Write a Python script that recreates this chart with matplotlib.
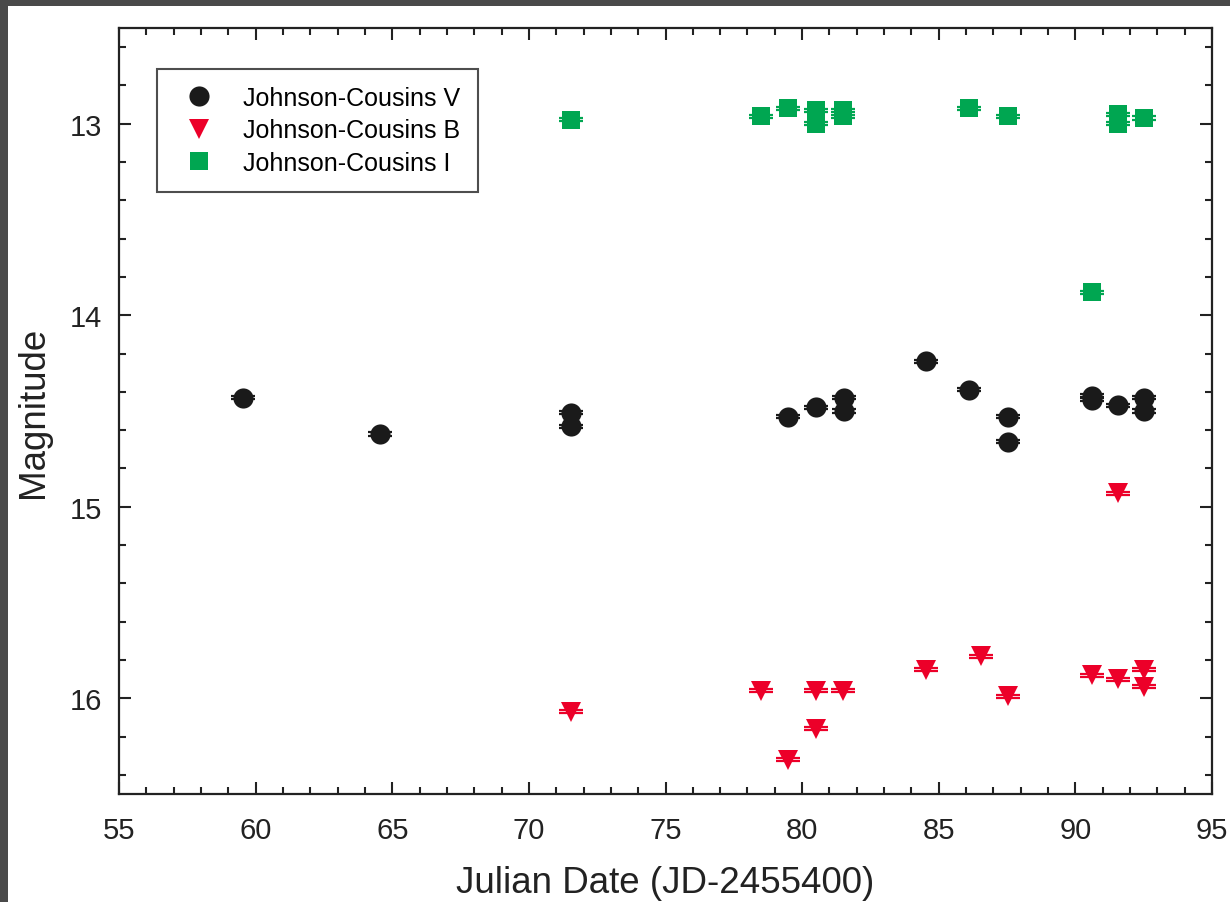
import matplotlib
matplotlib.use("Agg")
import matplotlib.pyplot as plt
from matplotlib.lines import Line2D
from matplotlib.patches import Rectangle
from matplotlib.ticker import MultipleLocator

plt.rcParams['font.family'] = ['Liberation Sans', 'DejaVu Sans']

# Johnson-Cousins V
v_jd = [59.55, 64.55, 71.55, 71.55, 79.5, 80.5, 81.55, 81.55, 84.55, 86.1, 87.55, 87.55, 90.6, 90.6, 91.55, 92.5, 92.5]
v_mag = [14.43, 14.62, 14.51, 14.58, 14.53, 14.48, 14.43, 14.50, 14.24, 14.39, 14.53, 14.66, 14.42, 14.44, 14.47, 14.43, 14.50]
# Johnson-Cousins B
b_jd = [71.55, 78.5, 79.5, 80.5, 80.5, 81.5, 84.55, 86.55, 87.55, 90.6, 91.55, 91.55, 92.5, 92.5]
b_mag = [16.07, 15.96, 16.32, 15.96, 16.16, 15.96, 15.85, 15.78, 15.99, 15.88, 15.90, 14.93, 15.85, 15.94]
# Johnson-Cousins I
i_jd = [71.55, 78.5, 79.5, 80.5, 80.5, 81.5, 81.5, 86.1, 87.55, 90.6, 91.55, 91.55, 92.5]
i_mag = [12.98, 12.96, 12.92, 12.93, 13.00, 12.93, 12.96, 12.92, 12.96, 13.88, 12.95, 13.00, 12.97]

series_labels = ["Johnson-Cousins V", "Johnson-Cousins B", "Johnson-Cousins I"]

c_v = "#1a1a1a"
c_b = "#ec0029"
c_i = "#00a651"
c_ax = "#222222"

fig = plt.figure(figsize=(12.3, 9.03), dpi=100)
fig.patch.set_facecolor("#4a4a4a")
fig.patches.append(Rectangle((8 / 1230, 0), 1, 1 - 7 / 903, transform=fig.transFigure,
                             facecolor="white", edgecolor="none", zorder=-10))

ax = fig.add_axes([119 / 1230, 1 - 795 / 903, (1212 - 119) / 1230, (795 - 29) / 903])

def draw(x, y, color, marker, ms):
    ax.errorbar(x, y, yerr=[0.008] * len(x), fmt="none", ecolor=color, elinewidth=1.2,
                capsize=8.5, capthick=1.6, zorder=2)
    ax.plot(x, y, linestyle="none", marker=marker, color=color, markersize=ms,
            markeredgewidth=0, zorder=3)

draw(v_jd, v_mag, c_v, "o", 14.5)
draw(b_jd, b_mag, c_b, "v", 15)
draw(i_jd, i_mag, c_i, "s", 12.5)

ax.set_xlim(55, 95)
ax.set_ylim(16.5, 12.5)
ax.xaxis.set_major_locator(MultipleLocator(5))
ax.xaxis.set_minor_locator(MultipleLocator(1))
ax.yaxis.set_major_locator(MultipleLocator(1))
ax.yaxis.set_minor_locator(MultipleLocator(0.2))
ax.tick_params(which="both", direction="in", top=True, right=True, width=1.5, colors=c_ax)
ax.tick_params(which="major", length=8.5, labelsize=21)
ax.tick_params(axis="x", which="major", pad=16)
ax.tick_params(axis="y", which="major", pad=12)
ax.tick_params(which="minor", length=5)
for s in ax.spines.values():
    s.set_linewidth(1.6)
    s.set_color(c_ax)

ax.set_xlabel("Julian Date (JD-2455400)", fontsize=26.5, labelpad=15, color=c_ax)
ax.set_ylabel("Magnitude", fontsize=26.5, labelpad=14, color=c_ax)

handles = [
    Line2D([], [], linestyle="none", marker="o", color=c_v, markersize=14.5, markeredgewidth=0),
    Line2D([], [], linestyle="none", marker="v", color=c_b, markersize=15, markeredgewidth=0),
    Line2D([], [], linestyle="none", marker="s", color=c_i, markersize=12.5, markeredgewidth=0),
]
leg = ax.legend(handles, series_labels, loc="upper left", bbox_to_anchor=(0.0347, 0.947),
                fontsize=18, frameon=True, fancybox=False, edgecolor=c_ax,
                borderpad=0.7, labelspacing=0.33, handletextpad=0.75, borderaxespad=0,
                handlelength=2.0)
leg.get_frame().set_linewidth(1.5)

fig.savefig("out.png", dpi=100, facecolor=fig.get_facecolor())
